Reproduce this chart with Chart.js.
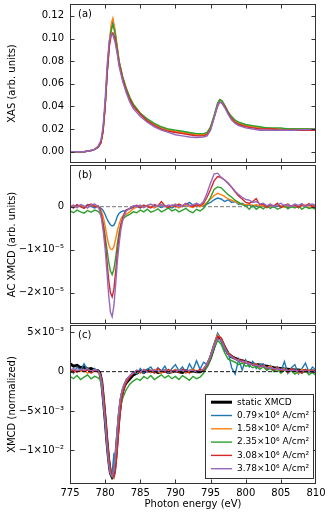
<!DOCTYPE html>
<html>
<head>
<meta charset="utf-8">
<script src="https://cdn.jsdelivr.net/npm/chart.js@4.4.1/dist/chart.umd.min.js"></script>
<style>
  html, body { margin: 0; padding: 0; background: #fff; }
  body { width: 331px; height: 516px; position: relative; overflow: hidden; }
  canvas { position: absolute; left: 0; }
</style>
</head>
<body>
<canvas id="chartA" width="331" height="164" style="top:0px"></canvas>
<canvas id="chartB" width="331" height="161" style="top:164px"></canvas>
<canvas id="chartC" width="331" height="191" style="top:325px"></canvas>
<script>
// ---- data ----
const SERIES_LABELS = ['0.79×10⁶ A/cm²', '1.58×10⁶ A/cm²', '2.35×10⁶ A/cm²', '3.08×10⁶ A/cm²', '3.78×10⁶ A/cm²'];
const STATIC_LABEL = 'static XMCD';

const TICKS_X = [775, 780, 785, 790, 795, 800, 805, 810];
const TICKS_A = [0, 0.02, 0.04, 0.06, 0.08, 0.10, 0.12];
const TICK_LABELS_A = ['0.00', '0.02', '0.04', '0.06', '0.08', '0.10', '0.12'];
const TICKS_B = [0, -1e-5, -2e-5];
const TICK_LABELS_B = ['0', '−1×10⁻⁵', '−2×10⁻⁵'];
const TICKS_C = [5e-3, 0, -5e-3, -1e-2];
const TICK_LABELS_C = ['5×10⁻³', '0', '−5×10⁻³', '−1×10⁻²'];

// (a) XAS, energies in eV
const ENERGY_XAS = [775, 776, 777, 778, 778.5, 779, 779.4, 779.7, 780, 780.3, 780.6, 780.9, 781.1, 781.4, 781.7,
  782, 782.5, 783, 783.5, 784, 785, 786, 787, 788, 789, 790, 791, 792, 793, 794, 794.5, 795, 795.5, 796, 796.3,
  796.6, 797, 797.5, 798, 798.5, 799, 800, 801, 802, 803, 804, 805, 806, 807, 808, 809, 810];
const XAS_1 = [0.000, 0.000, 0.000, 0.001, 0.002, 0.004, 0.008, 0.019, 0.041, 0.072, 0.097, 0.111, 0.115, 0.106, 0.092,
  0.079, 0.065, 0.055, 0.047, 0.041, 0.033, 0.028, 0.024, 0.021, 0.019, 0.018, 0.017, 0.016, 0.015, 0.015, 0.016, 0.021, 0.031, 0.042, 0.046,
  0.045, 0.041, 0.035, 0.030, 0.027, 0.025, 0.023, 0.022, 0.021, 0.021, 0.020, 0.020, 0.020, 0.020, 0.020, 0.020, 0.020];
const XAS_2 = [0.000, 0.000, 0.000, 0.001, 0.002, 0.004, 0.008, 0.018, 0.040, 0.072, 0.098, 0.114, 0.118, 0.108, 0.094,
  0.080, 0.066, 0.056, 0.048, 0.042, 0.034, 0.028, 0.024, 0.021, 0.019, 0.018, 0.017, 0.016, 0.015, 0.015, 0.016, 0.021, 0.031, 0.042, 0.046,
  0.045, 0.041, 0.035, 0.030, 0.027, 0.025, 0.023, 0.022, 0.021, 0.021, 0.020, 0.020, 0.020, 0.020, 0.020, 0.020, 0.020];
const XAS_3 = [0.000, 0.000, 0.000, 0.001, 0.002, 0.004, 0.008, 0.018, 0.040, 0.071, 0.095, 0.108, 0.112, 0.105, 0.092,
  0.079, 0.066, 0.056, 0.048, 0.042, 0.034, 0.029, 0.025, 0.022, 0.020, 0.019, 0.018, 0.017, 0.016, 0.016, 0.017, 0.022, 0.032, 0.043, 0.046,
  0.045, 0.041, 0.035, 0.031, 0.028, 0.026, 0.024, 0.023, 0.022, 0.021, 0.021, 0.021, 0.020, 0.020, 0.020, 0.020, 0.020];
const XAS_4 = [0.000, 0.000, 0.000, 0.001, 0.002, 0.004, 0.008, 0.018, 0.040, 0.070, 0.093, 0.104, 0.105, 0.100, 0.089,
  0.077, 0.064, 0.054, 0.046, 0.040, 0.033, 0.027, 0.023, 0.020, 0.018, 0.017, 0.016, 0.015, 0.014, 0.014, 0.015, 0.020, 0.030, 0.040, 0.044,
  0.043, 0.040, 0.034, 0.029, 0.026, 0.024, 0.022, 0.021, 0.020, 0.020, 0.020, 0.019, 0.019, 0.019, 0.019, 0.019, 0.019];
const XAS_5 = [0.000, 0.000, 0.000, 0.001, 0.002, 0.005, 0.010, 0.022, 0.046, 0.078, 0.098, 0.104, 0.103, 0.097, 0.087,
  0.075, 0.062, 0.052, 0.044, 0.038, 0.031, 0.026, 0.022, 0.019, 0.017, 0.015, 0.014, 0.013, 0.0125, 0.013, 0.014, 0.019, 0.030, 0.041, 0.044,
  0.043, 0.039, 0.033, 0.028, 0.025, 0.023, 0.021, 0.020, 0.019, 0.019, 0.019, 0.019, 0.019, 0.019, 0.0195, 0.0195, 0.020];

// (b) and (c) share a finer energy grid around the L3 edge
const ENERGY_FINE = [775, 775.5, 776, 776.5, 777, 777.5, 778, 778.5, 779,
  779.25, 779.5, 779.75, 780, 780.25, 780.5, 780.75, 781, 781.25, 781.5, 781.75, 782, 782.25, 782.5, 782.75, 783,
  783.5, 784, 784.5, 785, 785.5, 786, 786.5, 787, 787.5, 788, 788.5, 789, 789.5, 790, 790.5, 791, 791.5, 792, 792.5, 793,
  793.5, 794, 794.5, 795, 795.5, 796, 796.5, 797, 797.5, 798, 798.5, 799, 799.5, 800, 800.5, 801, 801.5, 802,
  802.5, 803, 803.5, 804, 804.5, 805, 805.5, 806, 806.5, 807, 807.5, 808, 808.5, 809, 809.5, 810];

// (b) AC XMCD, in units of 1e-5
const SCALE_B = 1e-5;
const AC_1 = [0.02, -0.03, 0.04, 0.00, -0.02, 0.05, 0.01, -0.03, 0.00,
  -0.02, -0.05, -0.10, -0.18, -0.28, -0.36, -0.42, -0.45, -0.43, -0.34, -0.22, -0.15, -0.12, -0.10, -0.10, -0.08,
  -0.05, -0.02, 0.00, -0.03, 0.02, 0.00, -0.02, 0.03, 0.01, -0.02, 0.02, 0.00, -0.03, 0.02, 0.04, 0.00, 0.05, 0.10, 0.03, 0.00,
  0.04, 0.02, 0.06, 0.10, 0.16, 0.20, 0.18, 0.12, 0.16, 0.10, 0.12, 0.05, 0.08, 0.03, 0.04, 0.00, 0.02, -0.02,
  0.03, 0.00, 0.04, -0.02, 0.02, 0.00, 0.03, -0.03, 0.02, 0.05, -0.02, 0.03, 0.00, 0.04, -0.02, 0.02];
const AC_2 = [0.00, 0.03, -0.02, 0.04, 0.00, -0.03, 0.05, 0.02, -0.02,
  -0.05, -0.12, -0.25, -0.45, -0.68, -0.88, -0.98, -1.00, -0.93, -0.75, -0.55, -0.40, -0.28, -0.22, -0.20, -0.18,
  -0.12, -0.05, 0.00, 0.02, -0.02, 0.03, 0.00, -0.03, 0.02, 0.04, 0.00, -0.02, 0.03, 0.01, -0.03, 0.02, 0.05, 0.00, -0.02, 0.03,
  0.00, 0.04, 0.10, 0.18, 0.26, 0.31, 0.28, 0.24, 0.18, 0.15, 0.12, 0.08, 0.06, 0.04, 0.06, 0.02, 0.05, 0.00,
  0.03, -0.02, 0.04, 0.00, 0.06, 0.02, -0.02, 0.03, 0.00, 0.05, -0.03, 0.02, 0.04, -0.02, 0.03, 0.00];
const AC_3 = [-0.10, -0.14, -0.08, -0.12, -0.15, -0.09, -0.13, -0.08, -0.11,
  -0.15, -0.25, -0.42, -0.68, -0.98, -1.28, -1.50, -1.58, -1.45, -1.18, -0.85, -0.58, -0.40, -0.30, -0.25, -0.22,
  -0.18, -0.12, -0.14, -0.08, -0.12, -0.06, -0.13, -0.10, -0.05, -0.12, -0.08, -0.03, -0.10, -0.06, -0.12, -0.08, -0.04, -0.11, -0.14, -0.06,
  -0.10, -0.04, 0.08, 0.22, 0.40, 0.46, 0.44, 0.36, 0.28, 0.22, 0.15, 0.10, 0.05, 0.02, -0.06, 0.03, -0.06, 0.00,
  -0.05, 0.02, -0.04, 0.01, -0.06, -0.02, 0.03, -0.05, 0.00, -0.03, 0.02, -0.06, 0.00, -0.04, -0.02, -0.07];
const AC_4 = [0.02, -0.03, 0.05, 0.00, -0.04, 0.03, 0.06, 0.00, 0.02,
  -0.05, -0.20, -0.45, -0.80, -1.25, -1.70, -2.00, -2.10, -1.92, -1.50, -1.05, -0.68, -0.42, -0.25, -0.15, -0.08,
  -0.04, 0.00, 0.03, -0.02, 0.04, 0.00, -0.03, 0.05, 0.02, 0.12, 0.02, -0.02, 0.04, 0.00, 0.06, 0.02, 0.08, 0.03, 0.00, 0.05,
  0.02, 0.08, 0.22, 0.40, 0.60, 0.70, 0.68, 0.62, 0.54, 0.45, 0.34, 0.25, 0.18, 0.10, 0.08, 0.12, 0.19, 0.04,
  0.06, -0.02, 0.05, 0.02, 0.08, -0.02, 0.03, 0.06, 0.00, 0.04, -0.02, 0.05, 0.02, 0.07, 0.00, 0.04];
const AC_5 = [0.00, 0.04, -0.02, 0.05, 0.02, -0.03, 0.04, 0.06, 0.00,
  -0.10, -0.30, -0.60, -0.98, -1.50, -2.05, -2.45, -2.56, -2.30, -1.80, -1.25, -0.85, -0.52, -0.32, -0.20, -0.10,
  -0.04, 0.02, 0.00, 0.04, -0.02, 0.03, 0.06, 0.00, 0.03, 0.05, 0.00, 0.04, 0.02, 0.06, 0.00, 0.03, 0.07, 0.02, 0.05, 0.08,
  0.04, 0.12, 0.32, 0.55, 0.76, 0.78, 0.68, 0.62, 0.55, 0.46, 0.36, 0.28, 0.22, 0.17, 0.15, 0.10, 0.12, 0.06,
  0.08, 0.02, 0.06, 0.00, 0.04, 0.08, 0.02, 0.05, 0.00, 0.06, 0.03, 0.07, 0.00, 0.04, 0.06, 0.02];

// (c) normalized XMCD, in units of 1e-3
const SCALE_C = 1e-3;
const XMCD_STATIC = [1.0, 0.7, 0.8, 0.5, 0.6, 0.3, 0.4, 0.2, 0.1,
  -0.2, -1.2, -3.5, -6.0, -8.8, -11.2, -12.9, -13.4, -13.0, -11.0, -8.2, -5.5, -3.6, -2.5, -1.8, -1.4,
  -0.9, -0.4, -0.2, 0.1, -0.1, 0.2, 0.0, 0.1, -0.1, 0.0, 0.1, -0.1, 0.0, 0.1, 0.0, -0.1, 0.1, 0.0, 0.1, 0.0,
  0.0, 0.2, 0.8, 1.8, 3.2, 4.4, 4.1, 3.1, 2.3, 1.9, 1.7, 1.5, 1.4, 1.25, 1.1, 1.0, 0.9, 0.85,
  0.75, 0.7, 0.6, 0.5, 0.45, 0.4, 0.35, 0.3, 0.25, 0.2, 0.2, 0.15, 0.1, 0.1, 0.1, 0.05];
const XMCD_1 = [0.3, -0.2, 0.6, 0.1, 1.0, 0.2, -0.1, 0.4, 0.0,
  -0.3, -1.0, -3.2, -5.8, -8.5, -11.0, -12.6, -12.8, -10.5, -10.8, -8.0, -5.0, -3.2, -2.2, -1.5, -1.0,
  -0.6, 0.0, -0.3, 0.4, -0.2, 0.3, 0.6, -0.1, 0.5, 0.1, 0.7, -0.2, 0.4, 0.9, 0.1, 0.6, -0.1, 1.0, 0.2, 1.4,
  0.3, 1.2, 0.9, 2.0, 3.5, 4.9, 4.2, 2.6, 2.5, 0.5, -0.3, 1.6, 0.2, 1.5, 0.6, 1.3, 0.4, 0.9,
  1.0, 0.2, 0.8, 0.1, 0.6, 0.0, 1.3, -0.2, 0.5, 0.9, -0.3, 0.4, 1.1, -0.1, 0.6, 0.2];
const XMCD_2 = [0.1, -0.1, 0.2, 0.0, 0.3, -0.2, 0.1, 0.2, -0.1,
  -0.3, -1.4, -3.6, -6.0, -8.8, -11.3, -12.9, -13.3, -12.6, -10.6, -7.6, -4.8, -3.1, -2.2, -1.6, -1.1,
  -0.6, -0.2, 0.1, -0.2, 0.2, 0.0, -0.1, 0.3, 0.0, -0.2, 0.2, 0.1, -0.1, 0.3, 0.0, 0.2, -0.2, 0.1, 0.3, 0.0,
  0.2, 0.3, 1.0, 2.0, 3.4, 4.7, 4.2, 3.2, 2.3, 1.9, 1.6, 1.5, 1.2, 1.3, 1.0, 0.9, 1.0, 0.6,
  0.8, 0.5, 0.7, 0.3, 0.5, 0.2, 0.4, 0.0, 0.3, 0.1, -0.2, 0.3, 0.0, 0.2, -0.1, 0.1];
const XMCD_3 = [-0.6, -0.9, -0.5, -1.0, -0.7, -0.4, -0.9, -0.6, -0.8,
  -1.0, -1.8, -3.8, -6.2, -9.0, -11.4, -13.0, -13.4, -12.8, -11.0, -8.6, -6.0, -4.3, -3.4, -2.8, -2.3,
  -1.6, -1.2, -0.9, -1.1, -0.6, -0.9, -0.5, -1.0, -0.7, -0.4, -0.8, -0.5, -0.9, -0.6, -1.0, -0.5, -0.8, -1.1, -0.6, -0.9,
  -0.7, -0.2, 0.6, 1.6, 3.0, 4.0, 3.5, 2.4, 1.6, 1.4, 1.2, 0.9, 1.1, 0.7, 0.8, 0.5, 0.7, 0.3,
  0.6, 0.2, 0.4, 0.0, 0.3, -0.2, 0.2, -0.1, 0.1, -0.3, 0.0, -0.2, 0.1, -0.4, -0.1, -0.5];
const XMCD_4 = [0.0, 0.2, -0.1, 0.3, 0.0, 0.2, -0.2, 0.1, 0.0,
  -0.2, -0.9, -2.8, -5.2, -8.0, -10.6, -12.4, -13.0, -13.5, -12.4, -9.8, -6.6, -4.2, -2.8, -2.0, -1.4,
  -0.7, -0.2, 0.2, -0.1, 0.3, 0.0, 0.2, -0.2, 0.4, 0.1, -0.1, 0.3, 0.0, 0.2, -0.1, 0.3, 0.1, -0.2, 0.2, 0.0,
  0.3, 0.2, 0.9, 1.9, 3.3, 4.5, 4.3, 3.2, 2.4, 2.0, 1.7, 1.4, 1.5, 1.1, 1.2, 0.8, 0.9, 0.6,
  0.8, 0.4, 0.6, 0.2, 0.5, 0.1, 0.3, -0.1, 0.4, 0.0, 0.2, -0.2, 0.3, 0.0, 0.2, -0.1];
const XMCD_5 = [0.2, 0.4, 0.1, 0.3, 0.2, 0.4, 0.0, 0.3, 0.1,
  -0.3, -1.5, -3.9, -6.4, -9.2, -11.6, -13.0, -13.3, -12.5, -10.2, -7.2, -4.6, -3.0, -2.1, -1.5, -1.0,
  -0.5, -0.1, 0.1, 0.0, 0.2, -0.1, 0.1, 0.2, 0.0, 0.1, 0.2, -0.1, 0.1, 0.0, 0.2, 0.1, 0.0, 0.2, 0.1, 0.0,
  0.1, 0.3, 1.0, 2.0, 3.3, 4.2, 4.0, 3.0, 2.2, 1.9, 1.6, 1.4, 1.3, 1.2, 1.0, 0.9, 0.8, 0.7,
  0.7, 0.5, 0.5, 0.4, 0.3, 0.3, 0.2, 0.2, 0.1, 0.2, 0.0, 0.1, 0.1, 0.0, 0.1, 0.0];

// ---- styling ----
const COLORS = ['#1f77b4', '#ff7f0e', '#2ca02c', '#d62728', '#9467bd'];
const FONT = 'DejaVu Sans';
Chart.defaults.font.family = FONT;
Chart.defaults.font.size = 10;
Chart.defaults.color = '#000';

function points(xs, ys, scale) {
  return xs.map((x, i) => ({ x: x, y: ys[i] * scale }));
}

function seriesSets(xs, list, scale) {
  // later series drawn on top, as in the original
  return list.map((ys, i) => ({
    label: SERIES_LABELS[i],
    data: points(xs, ys, scale),
    borderColor: COLORS[i],
    borderWidth: 1.4,
    order: 10 - i
  }));
}

function zeroLine(color, order) {
  return {
    label: 'zero',
    data: [{ x: 775, y: 0 }, { x: 810, y: 0 }],
    borderColor: color,
    borderWidth: 0.9,
    borderDash: [4, 2],
    order: order
  };
}

// frame with inward ticks on all four sides, plus the panel letter
const framePlugin = {
  id: 'frame',
  afterDraw(chart, args, opts) {
    const { ctx, chartArea: a, scales: { x, y } } = chart;
    const l = a.left + 0.5, r = a.right - 0.5, t0 = a.top + 0.5, b = a.bottom - 0.5;
    ctx.save();
    ctx.strokeStyle = '#333';
    ctx.lineWidth = 1;
    ctx.strokeRect(l, t0, r - l, b - t0);
    ctx.beginPath();
    x.ticks.forEach(t => {
      const px = Math.min(Math.max(Math.round(x.getPixelForValue(t.value)) + 0.5, l), r);
      ctx.moveTo(px, b); ctx.lineTo(px, b - 4);
      ctx.moveTo(px, t0); ctx.lineTo(px, t0 + 4);
    });
    y.ticks.forEach(t => {
      const py = Math.min(Math.max(Math.round(y.getPixelForValue(t.value)) + 0.5, t0), b);
      ctx.moveTo(l, py); ctx.lineTo(l + 4, py);
      ctx.moveTo(r, py); ctx.lineTo(r - 4, py);
    });
    ctx.stroke();
    ctx.fillStyle = '#000';
    ctx.font = '10px "' + FONT + '"';
    ctx.textBaseline = 'middle';
    ctx.fillText(opts.label, a.left + 8, a.top + 10);
    ctx.restore();
  }
};

// legend box in the lower right of panel (c)
const legendPlugin = {
  id: 'boxLegend',
  afterDraw(chart, args, opts) {
    if (!opts.show) return;
    const { ctx, chartArea: a } = chart;
    const items = chart.data.datasets.filter(d => d.label !== 'zero');
    items.sort((p, q) => q.order - p.order);
    ctx.save();
    ctx.font = '9px "' + FONT + '"';
    const textW = Math.max(...items.map(d => ctx.measureText(d.label).width));
    const rowH = 13.3;
    const w = 32 + textW + 4;
    const h = items.length * rowH + 4;
    const right = a.right - 3;
    const bottom = a.bottom - 6;
    const left = right - w;
    const top = bottom - h;
    ctx.fillStyle = 'rgba(255,255,255,0.9)';
    ctx.fillRect(left, top, w, h);
    ctx.strokeStyle = '#333';
    ctx.lineWidth = 1;
    ctx.strokeRect(Math.round(left) + 0.5, Math.round(top) + 0.5, Math.round(w), Math.round(h));
    ctx.textBaseline = 'middle';
    items.forEach((d, i) => {
      const cy = top + 8 + i * rowH;
      ctx.strokeStyle = d.borderColor;
      ctx.lineWidth = d.borderWidth;
      ctx.beginPath();
      ctx.moveTo(left + 6, cy);
      ctx.lineTo(left + 27, cy);
      ctx.stroke();
      ctx.fillStyle = '#000';
      ctx.fillText(d.label, left + 32, cy);
    });
    ctx.restore();
  }
};

function xAxis(showLabels, height) {
  return {
    type: 'linear', min: 775, max: 810,
    afterBuildTicks: s => { s.ticks = TICKS_X.map(v => ({ value: v })); },
    afterFit: s => { s.height = height; s.paddingLeft = 0; s.paddingRight = 0; },
    grid: { display: false, drawTicks: false },
    border: { display: false },
    ticks: { display: showLabels, padding: 3, autoSkip: false, maxRotation: 0, callback: v => String(v) },
    title: { display: showLabels, text: 'Photon energy (eV)', padding: { top: 0, bottom: 6 } }
  };
}

function yAxis(min, max, ticks, labels, title) {
  return {
    type: 'linear', min: min, max: max,
    afterBuildTicks: s => { s.ticks = ticks.map(v => ({ value: v })); },
    afterFit: s => { s.width = 70; s.paddingTop = 0; s.paddingBottom = 0; },
    grid: { display: false, drawTicks: false },
    border: { display: false },
    ticks: { padding: 6, autoSkip: false, callback: (v, i) => labels[i] },
    title: { display: true, text: title, padding: { top: 6 } }
  };
}

function makeChart(id, datasets, y, showX, xHeight, pad, label, legend) {
  return new Chart(document.getElementById(id), {
    type: 'line',
    data: { datasets: datasets },
    options: {
      responsive: false,
      animation: false,
      devicePixelRatio: 1,
      parsing: false,
      elements: { point: { radius: 0 }, line: { tension: 0 } },
      layout: { padding: { top: pad.top, right: 15, bottom: pad.bottom, left: 0 } },
      scales: { x: xAxis(showX, xHeight), y: y },
      plugins: {
        legend: { display: false },
        tooltip: { enabled: false },
        frame: { label: label },
        boxLegend: { show: legend }
      }
    },
    plugins: [framePlugin, legendPlugin]
  });
}

// (a)
makeChart('chartA',
  seriesSets(ENERGY_XAS, [XAS_1, XAS_2, XAS_3, XAS_4, XAS_5], 1),
  yAxis(-0.01, 0.1305, TICKS_A, TICK_LABELS_A, 'XAS (arb. units)'),
  false, 1, { top: 4, bottom: 0 }, '(a)', false);

// (b)
makeChart('chartB',
  [zeroLine('#666', 20)].concat(seriesSets(ENERGY_FINE, [AC_1, AC_2, AC_3, AC_4, AC_5], SCALE_B)),
  yAxis(-2.73e-5, 0.97e-5, TICKS_B, TICK_LABELS_B, 'AC XMCD (arb. units)'),
  false, 1, { top: 1, bottom: 0 }, '(b)', false);

// (c)
const setsC = [{
  label: STATIC_LABEL,
  data: points(ENERGY_FINE, XMCD_STATIC, SCALE_C),
  borderColor: '#000',
  borderWidth: 3,
  order: 20
}].concat(seriesSets(ENERGY_FINE, [XMCD_1, XMCD_2, XMCD_3, XMCD_4, XMCD_5], SCALE_C), [zeroLine('#000', 0)]);
makeChart('chartC', setsC,
  yAxis(-14.3e-3, 5.94e-3, TICKS_C, TICK_LABELS_C, 'XMCD (normalized)'),
  true, 32, { top: 0, bottom: 0 }, '(c)', true);
</script>
</body>
</html>
